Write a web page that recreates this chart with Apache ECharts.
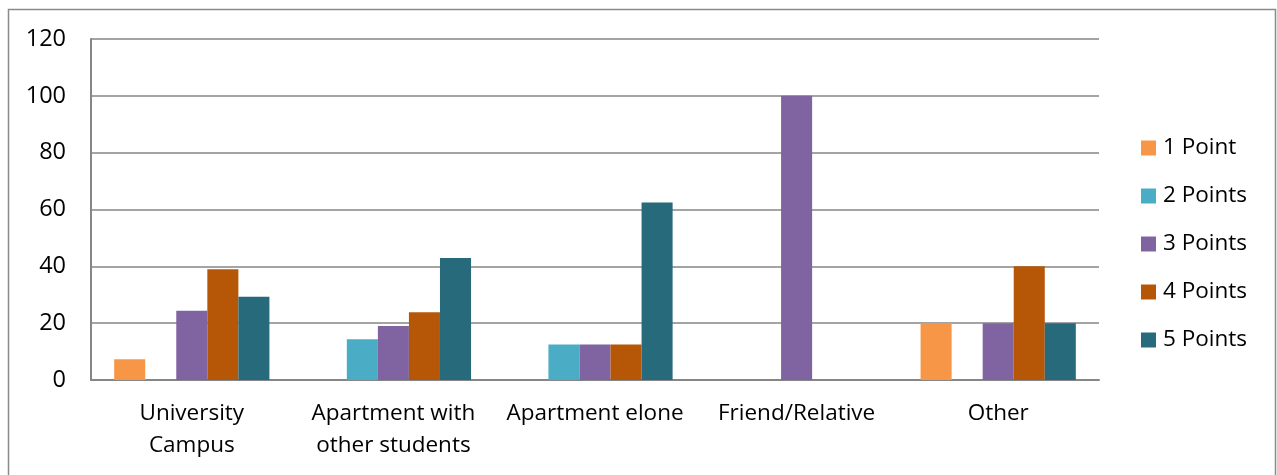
<!DOCTYPE html>
<html>
<head>
<meta charset="utf-8">
<script src="https://cdn.jsdelivr.net/npm/echarts@6/dist/echarts.min.js"></script>
<style>
  html, body { margin: 0; padding: 0; background: #fff; }
  #chart { width: 1277px; height: 475px; }
</style>
</head>
<body>
<div id="chart"></div>
<script>
// Accommodation types (x axis)
const categories = [
  'University\nCampus',
  'Apartment with\nother students',
  'Apartment elone',
  'Friend/Relative',
  'Other'
];

// Share of answers (%) per rating, one array per rating level
const onePoint    = [7.3, 0, 0, 0, 20];
const twoPoints   = [0, 14.3, 12.5, 0, 0];
const threePoints = [24.4, 19.0, 12.5, 100, 20];
const fourPoints  = [39.0, 23.8, 12.5, 0, 40];
const fivePoints  = [29.3, 42.9, 62.5, 0, 20];

const seriesNames = ['1 Point', '2 Points', '3 Points', '4 Points', '5 Points'];
const seriesData = [onePoint, twoPoints, threePoints, fourPoints, fivePoints];
const seriesColors = ['#F79646', '#4BACC6', '#8064A2', '#B65708', '#276A7C'];

const FONT = '"Open Sans", "Liberation Sans", sans-serif';

const chart = echarts.init(document.getElementById('chart'), null, { renderer: 'canvas' });

chart.setOption({
  animation: false,
  backgroundColor: '#ffffff',
  textStyle: { fontFamily: FONT },
  graphic: [{
    type: 'rect',
    shape: { x: 8.5, y: 9.5, width: 1267, height: 490 },
    style: { fill: 'none', stroke: '#8a8a8a', lineWidth: 1.5 },
    silent: true,
    z: -1
  }],
  grid: { left: 91, right: 178, top: 39, bottom: 95, containLabel: false },
  legend: {
    orient: 'vertical',
    left: 1136,
    top: 131,
    itemWidth: 15,
    itemHeight: 15,
    itemGap: 24,
    icon: 'rect',
    textStyle: { fontFamily: FONT, fontSize: 22.5, color: '#000', lineHeight: 24, padding: [0, 0, 0, 2] },
    data: seriesNames
  },
  xAxis: {
    type: 'category',
    data: categories,
    axisLine: { show: true, lineStyle: { color: '#868686', width: 2 } },
    axisTick: { show: false },
    axisLabel: {
      color: '#000',
      fontFamily: FONT,
      fontSize: 22.5,
      lineHeight: 32,
      margin: 18,
      interval: 0
    }
  },
  yAxis: {
    type: 'value',
    min: 0,
    max: 120,
    interval: 20,
    axisLine: { show: true, lineStyle: { color: '#868686', width: 2 } },
    axisTick: { show: false },
    splitLine: { show: true, lineStyle: { color: '#868686', width: 1.5 } },
    axisLabel: {
      color: '#000',
      fontFamily: FONT,
      fontSize: 23.5,
      margin: 25
    }
  },
  series: seriesNames.map((name, i) => ({
    name: name,
    type: 'bar',
    data: seriesData[i],
    barGap: '0%',
    barCategoryGap: '23%',
    itemStyle: { color: seriesColors[i] }
  }))
});
</script>
</body>
</html>
